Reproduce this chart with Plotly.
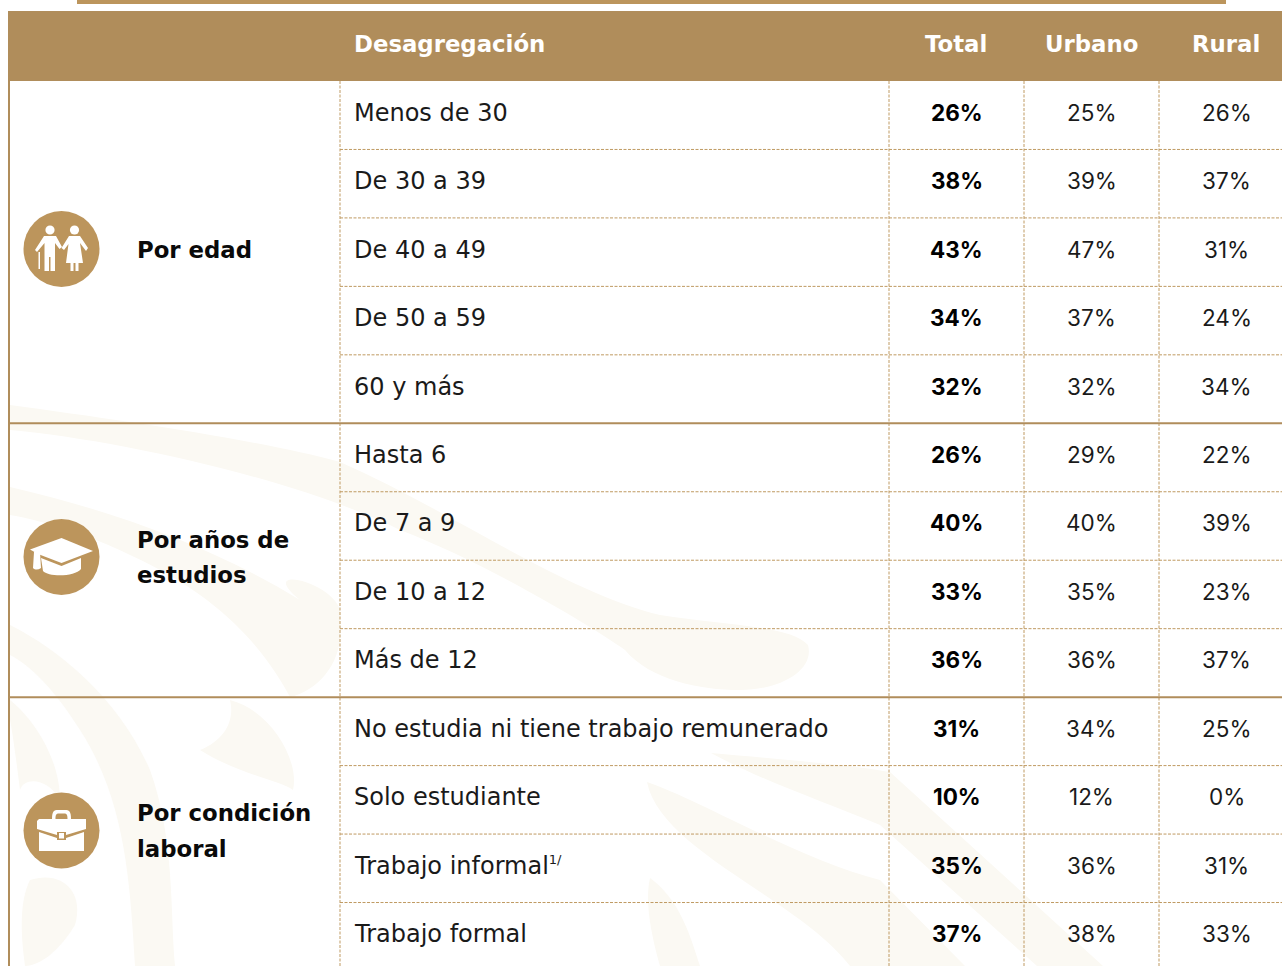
import plotly.graph_objects as go

headers = ["Desagregación", "Total", "Urbano", "Rural"]
groups = [["Por edad"], ["Por años de", "estudios"], ["Por condición", "laboral"]]
group_sizes = [5, 4, 4]
categories = ["Menos de 30", "De 30 a 39", "De 40 a 49", "De 50 a 59", "60 y más",
              "Hasta 6", "De 7 a 9", "De 10 a 12", "Más de 12",
              "No estudia ni tiene trabajo remunerado", "Solo estudiante",
              "Trabajo informal<sup><span style=\"font-size:13px\">1/</span></sup>", "Trabajo formal"]
total = [26, 38, 43, 34, 32, 26, 40, 33, 36, 31, 10, 35, 37]
urbano = [25, 39, 47, 37, 32, 29, 40, 35, 36, 34, 12, 36, 38]
rural = [26, 37, 31, 24, 34, 22, 39, 23, 37, 25, 0, 31, 33]

HEAD = "#B08D5B"
GOLD = "#BC955C"
LINE = "#BF9A62"
WM = "#FBF9F3"
LABEL_FONT = "DejaVu Sans"
NUM_FONT = "Inter"
TOP, H = 81.0, 68.46
COLX = [340, 889, 1024, 1159]
CENT = [956.5, 1091.5, 1226.5]

shapes = []
def rect(x0, y0, x1, y1, c):
    shapes.append(dict(type="rect", x0=x0, y0=y0, x1=x1, y1=y1, fillcolor=c, line_width=0, layer="below"))
def path(d, c=WM, layer="below"):
    shapes.append(dict(type="path", path=d, fillcolor=c, line_width=0, layer=layer))
def line(x0, y0, x1, y1, c, w, dash="solid", layer="below"):
    shapes.append(dict(type="line", x0=x0, y0=y0, x1=x1, y1=y1, line=dict(color=c, width=w, dash=dash), layer=layer))

# watermark
for d in [
    "M10,405 C120,420 260,440 340,462 C450,510 560,590 660,615 C720,625 790,625 808,645 C815,670 780,690 740,690 C700,690 650,680 625,650 C590,625 480,560 400,530 C300,480 120,440 10,430 Z",
    "M10,487 C110,510 210,545 300,600 C250,560 350,585 340,620 C345,660 320,690 290,697 C270,660 230,600 130,555 C90,535 40,520 10,515 Z",
    "M10,625 C60,650 120,700 150,770 C175,840 170,910 175,966 L135,966 C130,880 125,800 80,730 C55,690 30,665 10,655 Z",
    "M10,700 C35,720 60,760 60,800 C50,780 25,775 20,790 C15,750 12,730 10,720 Z",
    "M200,750 C225,740 235,720 230,700 C270,710 300,760 293,790 C280,780 240,775 200,750 Z",
    "M711,753 C790,760 850,765 890,772 L1103,966 L1037,966 L880,825 C820,800 760,780 711,753 Z",
    "M647,782 C700,800 800,860 880,880 L965,966 L850,966 C800,900 660,850 647,782 Z",
    "M650,878 C680,900 690,935 700,966 L660,966 C650,930 645,900 650,878 Z",
    "M30,880 C60,870 85,890 75,925 C60,950 40,966 25,966 C20,930 20,900 30,880 Z",
]:
    path(d)

# header + frame
rect(77, 0, 1226, 4, GOLD)
rect(8, 11, 1282, 81, HEAD)
rect(8, 81, 10, 966, HEAD)

# rules
n = len(categories)
ends = []
c = 0
for s in group_sizes:
    c += s
    ends.append(c)
for i in range(1, n):
    y = TOP + H * i
    if i in ends:
        continue
    line(340, y, 1282, y, LINE, 1, "3px,1.5px")
for x in COLX:
    line(x, 81, x, 966, LINE, 1, "3px,1.5px")
for e in ends[:-1]:
    y = TOP + H * e
    line(10, y, 1282, y, HEAD, 2)

# icons
ICON_Y = [249, 557, 830.5]
for cy in ICON_Y:
    shapes.append(dict(type="circle", x0=23.5, x1=99.5, y0=cy - 38, y1=cy + 38, fillcolor=GOLD, line_width=0, layer="below"))
W = "#FFFFFF"
def circ(cx, cy, r):
    shapes.append(dict(type="circle", x0=cx - r, x1=cx + r, y0=cy - r, y1=cy + r, fillcolor=W, line_width=0, layer="above"))
# people
circ(50, 230, 4.6)
circ(74.5, 230, 4.6)
path("M44,236 L56,236 L62,247 L59.5,249 L55,243 L55,256 L55,271 L50.5,271 L50.5,257 L49,257 L49,271 L44.5,271 L44.5,243 L37,252 L35,250 Z", W, "above")
path("M38.5,252 L40,252 L40,269 L38.5,269 Z", W, "above")
path("M69,236 L80,236 L88,248 L86,251 L80,243 L83,263 L78.5,263 L78.5,271 L75.5,271 L75.5,263 L73.5,263 L73.5,271 L70.5,271 L70.5,263 L66,263 L68.5,244 L64,250 L61.5,248 Z", W, "above")
# mortar board
path("M61.5,538 L93,551 L61.5,563 L38,554 L30,549.5 Z", W, "above")
path("M41,558 L61.5,566 L81,558 L81,569 C75,577 48,577 43,571 Z", W, "above")
path("M34,552 L40,552 L41,568 C38,570 35,570 33,568 Z", W, "above")
# briefcase
path("M52,819 C52,811 54,810 58,810 L65,810 C69,810 71,811 71,819 L67.5,819 C67.5,815 67,813.5 64,813.5 L59,813.5 C56,813.5 55.5,815 55.5,819 Z", W, "above")
path("M39,819 L86,819 L86,829 L66,835 L66,832 L57,832 L57,835 L37,829 L37,821 Z", W, "above")
path("M39,832 L57,838 L57,840 L66,840 L66,838 L84,832 L84,851 L39,851 Z", W, "above")
path("M59,833 L64,833 L64,838.5 L59,838.5 Z", W, "above")

ann = []
def text(x, y, t, size, color="#1A1A1A", bold=False, anchor="left", family=LABEL_FONT):
    ann.append(dict(x=x, y=y, text=f"<b>{t}</b>" if bold else t, showarrow=False, xanchor=anchor, yanchor="middle",
                    align=anchor, font=dict(family=family, size=size, color=color), xref="x", yref="y"))

for h, x, a in zip(headers, [352, CENT[0] - 0.5, CENT[1] - 0.5, CENT[2] - 0.5], ["left", "center", "center", "center"]):
    text(x, 43.5, h, 22.8, "#FFFFFF", True, a)

for g, cy in zip(groups, ICON_Y):
    ys = [cy + 1] if len(g) == 1 else [cy - 17.5, cy + 18]
    for t, y in zip(g, ys):
        text(134.5, y, t, 22.8, "#0A0A0A", True)

for i, cat in enumerate(categories):
    y = TOP + H * (i + 0.5) - 2.5
    text(352, y, cat, 24)
    text(CENT[0], y - 0.5, f"{total[i]}%", 22.5, "#000000", True, "center", NUM_FONT)
    text(CENT[1], y - 0.5, f"{urbano[i]}%", 22.5, anchor="center", family=NUM_FONT)
    text(CENT[2], y - 0.5, f"{rural[i]}%", 22.5, anchor="center", family=NUM_FONT)

fig = go.Figure()
fig.update_layout(
    width=1282, height=966, margin=dict(l=0, r=0, t=0, b=0),
    paper_bgcolor="#FFFFFF", plot_bgcolor="#FFFFFF", showlegend=False,
    xaxis=dict(range=[0, 1282], visible=False, fixedrange=True),
    yaxis=dict(range=[966, 0], visible=False, fixedrange=True),
    shapes=shapes, annotations=ann,
)
fig.add_trace(go.Scatter(x=[0], y=[0], mode="markers", marker=dict(opacity=0), hoverinfo="skip"))
fig.write_html("out.html", config=dict(displayModeBar=False),
               post_script="document.body.style.margin='0';document.documentElement.style.overflow='hidden';")
